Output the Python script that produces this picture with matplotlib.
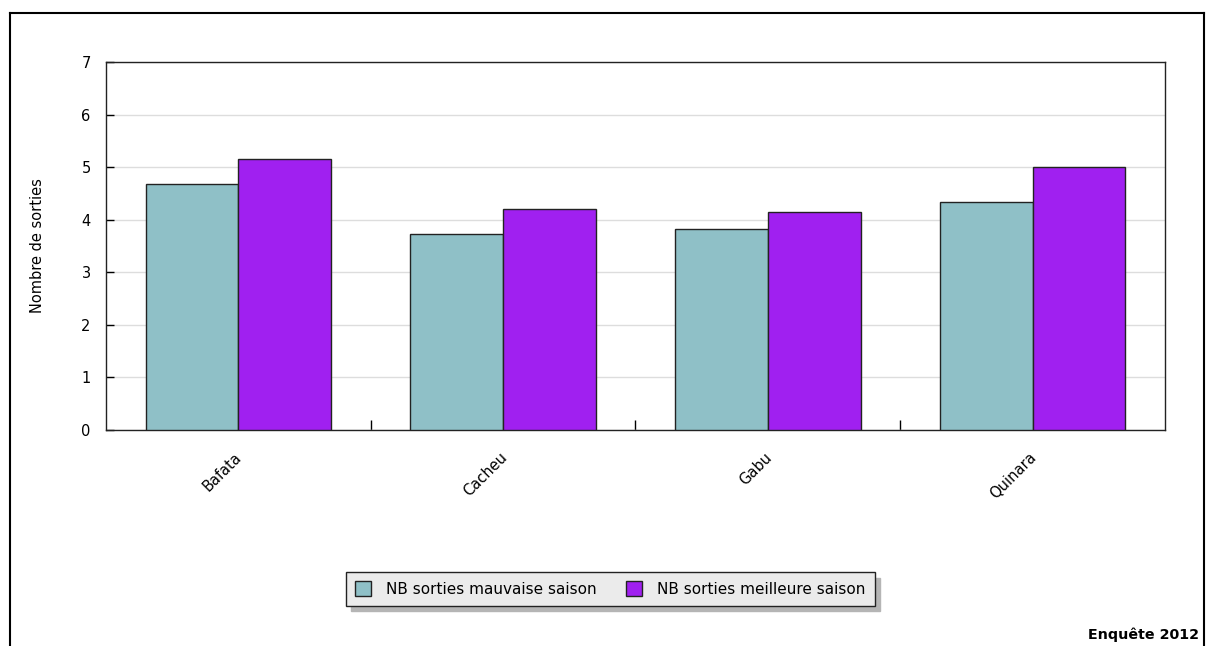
import matplotlib
matplotlib.use("Agg")
import matplotlib.pyplot as plt
import numpy as np
from matplotlib.lines import Line2D

categories = ["Bafata", "Cacheu", "Gabu", "Quinara"]
mauvaise = [4.68, 3.73, 3.82, 4.33]
meilleure = [5.15, 4.20, 4.14, 5.01]
series_names = ["NB sorties mauvaise saison", "NB sorties meilleure saison"]
yticks = [0, 1, 2, 3, 4, 5, 6, 7]

plt.rcParams['font.family'] = ['DejaVu Sans']
FS = 10.5

fig = plt.figure(figsize=(12.08, 6.46), dpi=100)
ax = fig.add_axes([106/1208, 1 - 430/646, (1165-106)/1208, (430-62)/646])

x = np.arange(len(categories))
w = 0.35
ax.bar(x - w/2, mauvaise, w, color="#8fc0c7", edgecolor="#222222", linewidth=1.0,
       label=series_names[0], zorder=3)
ax.bar(x + w/2, meilleure, w, color="#a020f0", edgecolor="#222222", linewidth=1.0,
       label=series_names[1], zorder=3)

ax.set_xlim(-0.5, len(categories) - 0.5)
ax.set_ylim(0, 7)
ax.set_yticks(yticks)
ax.set_yticklabels([str(t) for t in yticks], fontsize=FS)
ax.yaxis.grid(True, color="#dddddd", linewidth=1.0, zorder=0)
ax.tick_params(axis='y', direction='in', length=6, width=1, pad=11)
ax.set_ylabel("Nombre de sorties", fontsize=FS, labelpad=26)

# category separators as minor ticks
ax.set_xticks(x)
ax.set_xticklabels([])
ax.tick_params(axis='x', which='major', length=0)
ax.set_xticks(np.arange(0.5, len(categories) - 0.5, 1.0), minor=True)
ax.tick_params(axis='x', which='minor', direction='in', length=7, width=1)
for xi, c in zip(x, categories):
    ax.annotate(c, xy=(xi, 0), xycoords=('data', 'axes fraction'),
                xytext=(-4, -20), textcoords='offset pixels',
                rotation=45, ha='right', va='top', fontsize=FS,
                rotation_mode='anchor')

for s in ax.spines.values():
    s.set_linewidth(1.0)
    s.set_color("#222222")

leg = fig.legend(loc='center', bbox_to_anchor=(610/1208, 1 - 589/646), ncol=2,
                 fontsize=FS + 0.5, frameon=True, fancybox=False,
                 shadow={'ox': 4, 'oy': -4, 'color': '#b5b5b5', 'alpha': 1},
                 facecolor='#ebebeb', edgecolor='#222222', framealpha=1,
                 handlelength=1.05, handleheight=1.05, columnspacing=1.9,
                 handletextpad=1.0, borderpad=0.6)
leg.get_frame().set_linewidth(1.0)

# outer frame
fig.add_artist(Line2D([10/1208, 10/1208], [-0.01, 1 - 13/646], color='black', lw=1.5,
                      transform=fig.transFigure))
fig.add_artist(Line2D([10/1208, 1204/1208], [1 - 13/646, 1 - 13/646], color='black', lw=1.5,
                      transform=fig.transFigure))
fig.add_artist(Line2D([1204/1208, 1204/1208], [-0.01, 1 - 13/646], color='black', lw=1.5,
                      transform=fig.transFigure))

fig.text(1199/1208, 1 - 635/646, "Enquête 2012", ha='right', va='center',
         fontsize=10.3, fontweight='bold')

fig.savefig("out.png", dpi=100)
